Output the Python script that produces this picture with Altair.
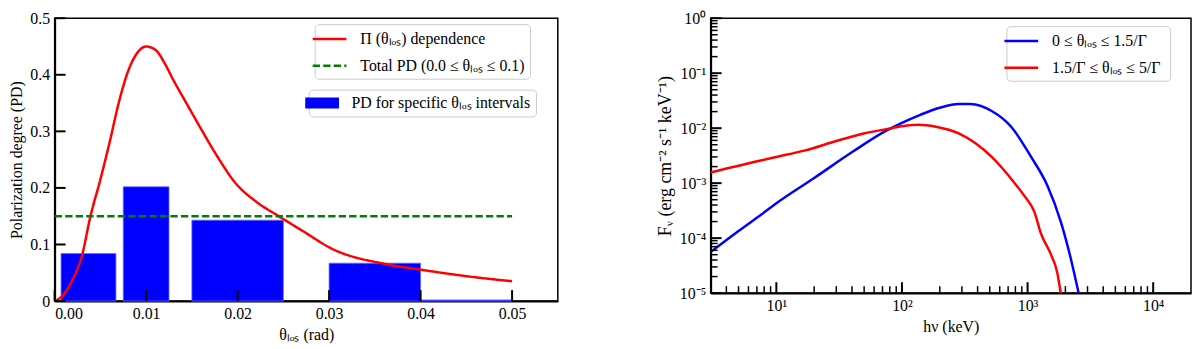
import altair as alt
import pandas as pd

# ---------------- Left panel data ----------------
theta = [0.0000, 0.0009, 0.0019, 0.0030, 0.0039, 0.0050, 0.0060, 0.0070, 0.0080,
         0.0090, 0.0100, 0.0111, 0.0120, 0.0130, 0.0145, 0.0158, 0.0175, 0.0198,
         0.0220, 0.0245, 0.0275, 0.0300, 0.0363, 0.0400, 0.0450, 0.0500]
pi_pd = [0.000, 0.010, 0.036, 0.081, 0.149, 0.215, 0.280, 0.350, 0.405,
         0.438, 0.450, 0.443, 0.421, 0.390, 0.347, 0.310, 0.263, 0.208,
         0.176, 0.150, 0.120, 0.095, 0.065, 0.0555, 0.044, 0.035]
total_theta = [0.0, 0.05]
total_pd = [0.15, 0.15]
bar_lo = [0.0007, 0.0075, 0.0150, 0.0300, 0.0400]
bar_hi = [0.0067, 0.0125, 0.0250, 0.0400, 0.0500]
bar_pd = [0.084, 0.202, 0.143, 0.067, 0.002]
left_xticks = [0.0, 0.01, 0.02, 0.03, 0.04, 0.05]
left_yticks = [0.0, 0.1, 0.2, 0.3, 0.4, 0.5]

L1 = "Π (θₗₒₛ) dependence"
L2 = "Total PD (0.0 ≤ θₗₒₛ ≤ 0.1)"
L3 = "PD for specific θₗₒₛ intervals"

# ---------------- Right panel data ----------------
e_blue = [3, 5, 7.6, 10, 20, 41, 75, 100, 140, 200, 283, 350, 518, 743, 1067,
          1442, 1837, 2200, 2550]
f_blue = [5.6e-5, 1.35e-4, 2.7e-4, 4.3e-4, 1.24e-3, 3.8e-3, 9.0e-3, 1.25e-2,
          1.75e-2, 2.35e-2, 2.75e-2, 2.75e-2, 2.05e-2, 1.05e-2, 3.0e-3, 8.9e-4,
          2.0e-4, 4.4e-5, 1.0e-5]
e_red = [3, 6.76, 10, 16.7, 30.5, 49.4, 75.4, 100, 135, 186, 283, 518, 789, 946,
         1133, 1280, 1532, 1727, 1836]
f_red = [1.56e-3, 2.45e-3, 3.0e-3, 3.9e-3, 5.9e-3, 8.0e-3, 9.6e-3, 1.08e-2,
         1.15e-2, 1.06e-2, 8.0e-3, 3.0e-3, 1.0e-3, 5.8e-4, 3.0e-4, 1.2e-4,
         5.1e-5, 2.3e-5, 1.0e-5]
R1 = "0  ≤ θₗₒₛ ≤ 1.5/Γ"
R2 = "1.5/Γ  ≤ θₗₒₛ ≤ 5/Γ"

x_major = [10, 100, 1000, 10000]
x_major_lab = ["10¹", "10²", "10³", "10⁴"]
x_minor = [4, 5, 6, 7, 8, 9] + [m * 10 ** k for k in (1, 2, 3) for m in range(2, 10)]
y_major = [1, 0.1, 0.01, 0.001, 0.0001, 0.00001]
y_major_lab = ["10⁰", "10⁻¹", "10⁻²", "10⁻³", "10⁻⁴", "10⁻⁵"]
y_minor = [m * 10.0 ** k for k in (-5, -4, -3, -2, -1) for m in range(2, 10)]

FONT = "Liberation Serif"
W1, H1 = 507, 285
W2, H2 = 484, 277
TL, TS = 11, 7  # tick lengths
LINE_SYM = "M-2,0H2"
RECT_SYM = "M-2,-0.65H2V0.65H-2Z"

# ---------------- Left chart ----------------
xsL = alt.Scale(domain=[0, 0.055], nice=False, zero=False)
ysL = alt.Scale(domain=[0, 0.5], nice=False)
axLx = alt.Axis(values=left_xticks, format=".2f", title="θₗₒₛ (rad)")
axLy = alt.Axis(values=left_yticks, title="Polarization degree (PD)",
                labelExpr="datum.value == 0 ? '0' : format(datum.value, '.1f')")

df_bars = pd.DataFrame({"lo": bar_lo, "hi": bar_hi, "pd": bar_pd, "series": [L3] * len(bar_pd)})
df_lines = pd.concat([
    pd.DataFrame({"theta": theta, "pd": pi_pd, "series": L1}),
    pd.DataFrame({"theta": total_theta, "pd": total_pd, "series": L2}),
])

bars = alt.Chart(df_bars).mark_rect(stroke="#6a6aff", strokeWidth=0.8).encode(
    x=alt.X("lo:Q", scale=xsL, axis=axLx),
    x2="hi:Q",
    y=alt.Y("pd:Q", scale=ysL, axis=axLy),
    y2=alt.datum(0),
    fill=alt.Fill("series:N", scale=alt.Scale(domain=[L3], range=["#0000ff"]),
                  legend=alt.Legend(title=None, symbolType=RECT_SYM,
                                    symbolStrokeWidth=0, orient="none",
                                    legendX=256, legendY=72)),
)

leg_lines = alt.Legend(title=None, symbolType=LINE_SYM, orient="none", legendX=262, legendY=6)
lines = alt.Chart(df_lines).mark_line(strokeWidth=2.5, clip=True, interpolate="monotone").encode(
    x=alt.X("theta:Q", scale=xsL, axis=axLx),
    y=alt.Y("pd:Q", scale=ysL, axis=axLy),
    stroke=alt.Stroke("series:N", scale=alt.Scale(domain=[L1, L2], range=["#ff0000", "#008000"]),
                      legend=leg_lines),
    strokeDash=alt.StrokeDash("series:N", scale=alt.Scale(domain=[L1, L2], range=[[1, 0], [7.4, 3.2]]),
                              legend=leg_lines),
)

xtL = alt.Chart(pd.DataFrame({"v": left_xticks})).mark_rule(color="black", strokeWidth=2).encode(
    x=alt.X("v:Q", scale=xsL, axis=axLx), y=alt.value(H1), y2=alt.value(H1 - TL))
ytL = alt.Chart(pd.DataFrame({"v": left_yticks})).mark_rule(color="black", strokeWidth=2).encode(
    y=alt.Y("v:Q", scale=ysL, axis=axLy), x=alt.value(0), x2=alt.value(TL))

left = alt.layer(bars, lines, xtL, ytL).properties(width=W1, height=H1)

# ---------------- Right chart ----------------
xsR = alt.Scale(type="log", domain=[3, 20000], nice=False)
ysR = alt.Scale(type="log", domain=[1e-5, 1], nice=False)

xlab = " : ".join(f"datum.value == {v} ? '{s}'" for v, s in zip(x_major, x_major_lab)) + " : ''"
ylab = " : ".join(f"abs(datum.value - {v}) < {v}*0.01 ? '{s}'" for v, s in zip(y_major, y_major_lab)) + " : ''"
axRx = alt.Axis(values=x_major, labelExpr=xlab, title="hν (keV)")
axRy = alt.Axis(values=y_major, labelExpr=ylab, title="Fᵥ (erg cm⁻² s⁻¹ keV⁻¹)",
                titleFontSize=18)

df_spec = pd.concat([
    pd.DataFrame({"e": e_blue, "f": f_blue, "series": R1}),
    pd.DataFrame({"e": e_red, "f": f_red, "series": R2}),
])

spec = alt.Chart(df_spec).mark_line(strokeWidth=2.5, clip=True, interpolate="monotone").encode(
    x=alt.X("e:Q", scale=xsR, axis=axRx),
    y=alt.Y("f:Q", scale=ysR, axis=axRy),
    stroke=alt.Stroke("series:N", scale=alt.Scale(domain=[R1, R2], range=["#0000ff", "#ff0000"]),
                      legend=alt.Legend(title=None, symbolType=LINE_SYM, orient="none",
                                        legendX=298, legendY=8)),
)

xtR = alt.Chart(pd.DataFrame({"v": x_major})).mark_rule(color="black", strokeWidth=2).encode(
    x=alt.X("v:Q", scale=xsR, axis=axRx), y=alt.value(H2), y2=alt.value(H2 - TL))
xtRm = alt.Chart(pd.DataFrame({"v": x_minor})).mark_rule(color="black", strokeWidth=1.5).encode(
    x=alt.X("v:Q", scale=xsR, axis=axRx), y=alt.value(H2), y2=alt.value(H2 - TS))
ytR = alt.Chart(pd.DataFrame({"v": y_major})).mark_rule(color="black", strokeWidth=2).encode(
    y=alt.Y("v:Q", scale=ysR, axis=axRy), x=alt.value(0), x2=alt.value(TL))
ytRm = alt.Chart(pd.DataFrame({"v": y_minor})).mark_rule(color="black", strokeWidth=1.5).encode(
    y=alt.Y("v:Q", scale=ysR, axis=axRy), x=alt.value(0), x2=alt.value(TS))

right = alt.layer(spec, xtR, xtRm, ytR, ytRm).properties(width=W2, height=H2)

chart = alt.hconcat(left, right, spacing=97).resolve_scale(
    x="independent", y="independent", fill="independent",
    stroke="independent", strokeDash="independent"
).resolve_legend(
    fill="independent", stroke="independent", strokeDash="independent"
).properties(padding={"left": 0, "top": 0, "right": 0, "bottom": 0}).configure_view(
    stroke="black", strokeWidth=1.5
).configure_axis(
    labelFont=FONT, labelFontSize=16, labelColor="black",
    titleFont=FONT, titleFontSize=16, titleFontWeight="normal", titleColor="black",
    ticks=False, grid=False, domainColor="black", domainWidth=2,
    labelPadding=5, titlePadding=5,
).configure_legend(
    fillColor="white", strokeColor="#cccccc",
    cornerRadius=4, padding=5, labelFont=FONT, labelFontSize=16, labelColor="black",
    symbolSize=289, symbolStrokeWidth=2.5, labelOffset=21, rowPadding=9,
    labelLimit=400,
)

chart.save("out.html", embed_options={"renderer": "svg", "actions": False})
